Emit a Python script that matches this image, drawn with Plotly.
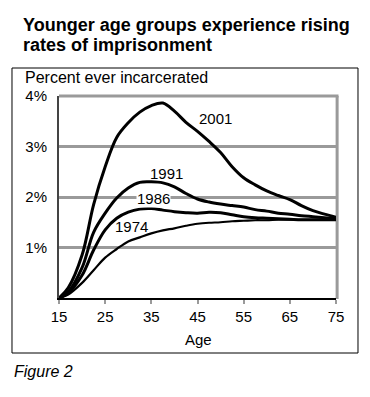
import plotly.graph_objects as go

ages = [15, 17, 20, 22.5, 25, 27.5, 30, 32.5, 35, 37.5, 40, 42.5, 45, 47.5,
        50, 52.5, 55, 57.5, 60, 62.5, 65, 67.5, 70, 72.5, 75]

pct_2001 = [0, 0.2, 0.85, 1.85, 2.6, 3.18, 3.47, 3.68, 3.81, 3.86, 3.7, 3.48, 3.3, 3.1,
            2.88, 2.6, 2.38, 2.24, 2.12, 2.03, 1.95, 1.83, 1.73, 1.66, 1.6]
pct_1991 = [0, 0.12, 0.6, 1.3, 1.68, 1.98, 2.18, 2.29, 2.3, 2.28, 2.2, 2.07, 1.96, 1.9,
            1.86, 1.83, 1.8, 1.75, 1.72, 1.68, 1.66, 1.63, 1.61, 1.59, 1.57]
pct_1986 = [0, 0.1, 0.45, 0.95, 1.35, 1.58, 1.7, 1.76, 1.77, 1.74, 1.71, 1.69, 1.68, 1.7,
            1.69, 1.65, 1.61, 1.59, 1.58, 1.57, 1.56, 1.55, 1.55, 1.55, 1.55]
pct_1974 = [0, 0.07, 0.3, 0.55, 0.8, 0.97, 1.12, 1.2, 1.28, 1.34, 1.38, 1.43, 1.47, 1.49,
            1.5, 1.52, 1.53, 1.54, 1.54, 1.55, 1.55, 1.55, 1.55, 1.55, 1.55]

series_names = ["2001", "1991", "1986", "1974"]
# label anchor positions (age, percent)
label_age = [48.9, 38.3, 35.4, 30.7]
label_pct = [3.56, 2.46, 1.97, 1.41]

x_ticks = [15, 25, 35, 45, 55, 65, 75]
y_ticks = [1, 2, 3, 4]
y_tick_text = ["1%", "2%", "3%", "4%"]

title_lines = ["Younger age groups experience rising", "rates of imprisonment"]

FONT = "Liberation Sans, Arial, Helvetica, sans-serif"
GRAY = "#9a9a9a"

# page body has an 8px default margin; figure is sized to fit the window
W, H = 362, 389

fig = go.Figure()
data = [pct_2001, pct_1991, pct_1986, pct_1974]
widths = [3, 3, 3, 2.2]
for name, vals, w in zip(series_names, data, widths):
    fig.add_trace(go.Scatter(x=ages, y=vals, mode="lines", name=name,
                             line=dict(color="black", width=w, shape="spline", smoothing=1.0),
                             showlegend=False, hoverinfo="skip"))

for name, ax, ay in zip(series_names, label_age, label_pct):
    fig.add_annotation(x=ax, y=ay, text=name, showarrow=False,
                       font=dict(family=FONT, size=15, color="black"),
                       bgcolor="white" if name == "1986" else "rgba(0,0,0,0)",
                       borderpad=0)

# right and top gray borders (paper refs, unclipped)
fig.add_shape(type="line", x0=1.004, x1=1.004, y0=-0.005, y1=1.0, xref="paper", yref="paper",
              line=dict(color=GRAY, width=3), layer="below")
fig.add_shape(type="line", x0=0, x1=1.009, y0=1.0, y1=1.0, xref="paper", yref="paper",
              line=dict(color=GRAY, width=3), layer="below")

# outer frame
fig.add_shape(type="rect", xref="paper", yref="paper",
              x0=-0.1697, x1=1.0794, y0=-0.2723, y1=1.1386,
              line=dict(color="black", width=1))

# title lines
for txt, yy in zip(title_lines, [1.3515, 1.2525]):
    fig.add_annotation(xref="paper", yref="paper", x=-0.1372, y=yy,
                       xanchor="left", yanchor="middle", showarrow=False,
                       text="<b>" + txt + "</b>",
                       font=dict(family=FONT, size=18, color="black"))

fig.add_annotation(xref="paper", yref="paper", x=-0.13, y=1.094,
                   xanchor="left", yanchor="middle", showarrow=False,
                   text="Percent ever incarcerated",
                   font=dict(family=FONT, size=16, color="black"))

fig.add_annotation(xref="paper", yref="paper", x=0.504, y=-0.203,
                   xanchor="center", yanchor="middle", showarrow=False,
                   text="Age",
                   font=dict(family=FONT, size=15, color="black"))

fig.add_annotation(xref="paper", yref="paper", x=-0.1697, y=-0.362,
                   xanchor="left", yanchor="middle", showarrow=False,
                   text="<i>Figure 2</i>",
                   font=dict(family=FONT, size=16, color="black"))

fig.update_layout(
    width=W, height=H,
    margin=dict(l=51, r=34, t=88, b=99, autoexpand=False),
    paper_bgcolor="white", plot_bgcolor="white",
    xaxis=dict(range=[15, 75], tickvals=x_ticks, showgrid=False, zeroline=False,
               showline=True, linecolor="black", linewidth=2, automargin=False,
               ticks="outside", ticklen=4, tickwidth=2, tickcolor=GRAY,
               tickfont=dict(family=FONT, size=15, color="black")),
    yaxis=dict(range=[0, 4], tickvals=y_ticks, ticktext=y_tick_text,
               showgrid=True, gridcolor=GRAY, gridwidth=3, zeroline=False,
               showline=True, linecolor="#444444", linewidth=2, automargin=False,
               ticks="outside", ticklen=0, ticklabelstandoff=7,
               tickfont=dict(family=FONT, size=15, color="black")),
    font=dict(family=FONT),
)

fig.write_html("out.html")
